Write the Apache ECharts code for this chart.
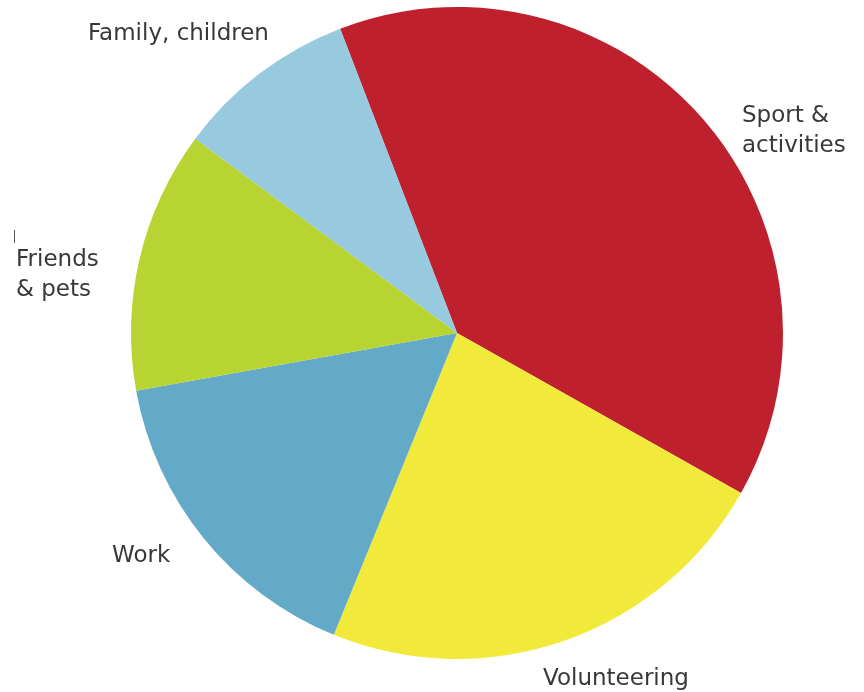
<!DOCTYPE html>
<html>
<head>
<meta charset="utf-8">
<script src="https://cdn.jsdelivr.net/npm/echarts@6/dist/echarts.min.js"></script>
<style>
html,body{margin:0;padding:0;background:#fff;}
#chart{width:864px;height:692px;}
</style>
</head>
<body>
<div id="chart"></div>
<script>
const categories = ['Sport &\nactivities', 'Volunteering', 'Work', 'Friends\n& pets', 'Family, children'];
const values = [39, 23, 16, 13, 9];
const colors = ['#BE202E', '#F2EA3A', '#63AAC9', '#B8D433', '#97C9DF'];

// label anchor positions (left x, vertical middle y)
const labelPos = [
  {x: 742, y: 131},
  {x: 543, y: 679},
  {x: 112, y: 556},
  {x: 16, y: 275},
  {x: 88, y: 34}
];

const chart = echarts.init(document.getElementById('chart'));
chart.setOption({
  animation: false,
  backgroundColor: '#ffffff',
  series: [{
    type: 'pie',
    center: [457, 333],
    radius: [0, 326],
    startAngle: 111,
    clockwise: true,
    avoidLabelOverlap: false,
    data: categories.map((c, i) => ({name: c, value: values[i], itemStyle: {color: colors[i]}})),
    itemStyle: {borderWidth: 0},
    emphasis: {disabled: true},
    label: {
      show: true,
      position: 'outside',
      formatter: '{b}',
      fontFamily: 'DejaVu Sans',
      fontWeight: 'normal',
      fontSize: 23,
      lineHeight: 30,
      color: '#383838',
      align: 'left'
    },
    labelLine: {show: false},
    labelLayout: function (p) {
      const pos = labelPos[p.dataIndex];
      return {x: pos.x, y: pos.y, align: 'left', verticalAlign: 'middle', hideOverlap: false};
    }
  }],
  graphic: [{
    type: 'line',
    shape: {x1: 14.5, y1: 230, x2: 14.5, y2: 243},
    style: {stroke: '#555', lineWidth: 1}
  }]
});
</script>
</body>
</html>
